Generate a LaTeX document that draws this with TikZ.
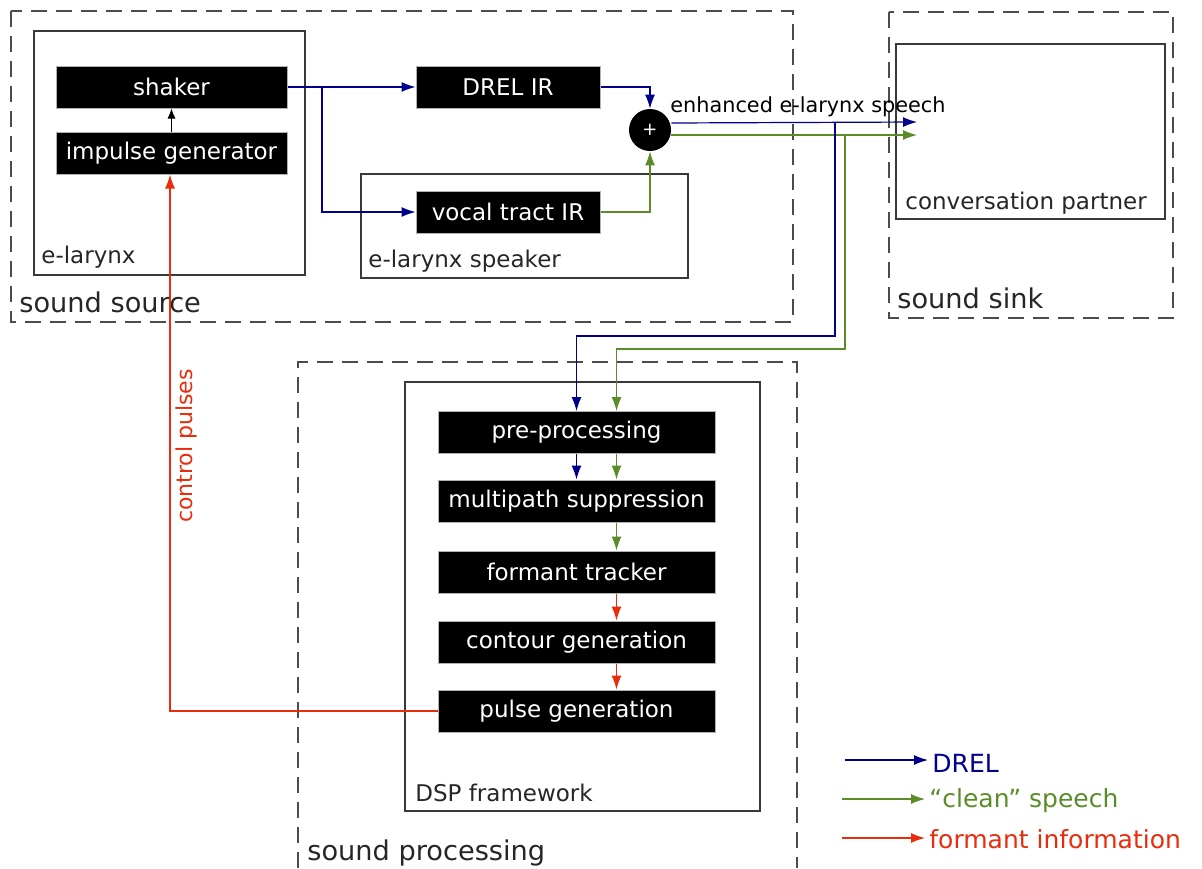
\documentclass[tikz,border=0pt]{standalone}
\usepackage{fontspec}
\setmainfont{DejaVu Sans}
\usetikzlibrary{arrows.meta}
\definecolor{drelblue}{RGB}{0,0,140}
\definecolor{cleangreen}{RGB}{92,140,42}
\definecolor{formantred}{RGB}{232,44,12}

\begin{document}
\begin{tikzpicture}[x=0.5pt, y=-0.5pt,
    block style/.style={rectangle, fill=black, draw=gray!60, line width=0.5pt, text=white, minimum height=21pt, inner sep=0pt, font=\fontsize{11.5}{13}\selectfont},
    frame style/.style={draw=gray!45!black, line width=0.6pt},
    group style/.style={draw=gray!60!black, line width=0.6pt, dash pattern=on 8pt off 4.5pt},
    label style/.style={anchor=base west, inner sep=0pt, text=black!85, font=\fontsize{11.5}{13}\selectfont},
    big label style/.style={anchor=base west, inner sep=0pt, text=black!85, font=\fontsize{13.6}{15}\selectfont},
    legend style/.style={anchor=west, inner sep=2pt, font=\fontsize{12.5}{14}\selectfont},
    drel line/.style={draw=drelblue, line width=0.6pt, -{Latex[length=7pt, width=5pt]}},
    clean line/.style={draw=cleangreen, line width=0.6pt, -{Latex[length=7pt, width=5pt]}},
    formant line/.style={draw=formantred, line width=0.65pt, -{Latex[length=7pt, width=5pt]}}
]
        \useasboundingbox (0,0) rectangle (1202,868);

        % groups and frames
        \draw[group style] (11,11) rectangle (793,322);
        \draw[group style] (889,12) rectangle (1173,318);
        \draw[group style] (298,868) -- (298,362) -- (797,362) -- (797,868);
        \draw[frame style] (34,31) rectangle (305,275);
        \draw[frame style] (361,174) rectangle (688,278);
        \draw[frame style] (896,44) rectangle (1165,219);
        \draw[frame style] (405,382) rectangle (760,811);

        \node[big label style] (srclabel) at (19,312) {sound source};
        \node[big label style] (sinklabel) at (897,308) {sound sink};
        \node[big label style] (proclabel) at (307,860) {sound processing};
        \node[label style] (larynxlabel) at (41,263) {e-larynx};
        \node[label style] (speakerlabel) at (368,267) {e-larynx speaker};
        \node[label style] (partnerlabel) at (905,209) {conversation partner};
        \node[label style] (dsplabel) at (415,801) {DSP framework};

        % blocks
        \node[block style, minimum width=115.5pt] (shaker) at (171.5,87) {shaker};
        \node[block style, minimum width=115.5pt] (impulse) at (171.5,153) {impulse generator};
        \node[block style, minimum width=92pt] (drelir) at (508,87) {DREL IR};
        \node[block style, minimum width=92pt] (vocal) at (508,212) {vocal tract IR};
        \node[circle, fill=black, minimum size=21pt, inner sep=0pt, text=white, font=\fontsize{9}{9}\selectfont] (sum) at (650,130) {+};
        \node[anchor=base west, inner sep=0pt, font=\fontsize{10.4}{12}\selectfont] (enhlabel) at (670,112) {enhanced e-larynx speech};

        \node[block style, minimum width=138.5pt] (pre) at (576.5,432.5) {pre-processing};
        \node[block style, minimum width=138.5pt] (multi) at (576.5,501) {multipath suppression};
        \node[block style, minimum width=138.5pt] (tracker) at (576.5,572) {formant tracker};
        \node[block style, minimum width=138.5pt] (contour) at (576.5,642) {contour generation};
        \node[block style, minimum width=138.5pt] (pulse) at (576.5,711) {pulse generation};

        % e-larynx signal paths
        \coordinate (split) at (322,87);
        \draw[-{Latex[length=5pt, width=4pt]}, line width=0.5pt] (impulse.north) -- (shaker.south);
        \draw[drel line] (shaker.east) -- (drelir.west);
        \draw[drel line] (split) |- (vocal.west);
        \draw[drel line] (drelir.east) -| (sum.north);
        \draw[clean line] (vocal.east) -| (sum.south);

        \coordinate (drelout) at (917,122);
        \coordinate (cleanout) at (917,135);
        \draw[drel line] ([yshift=3.5pt]sum.east) -- (drelout);
        \draw[clean line] ([yshift=-2.5pt]sum.east) -- (cleanout);

        % feed to the DSP framework
        \coordinate (dreltap) at (835,122);
        \coordinate (drelturn) at (835,336);
        \coordinate (cleantap) at (845,135);
        \coordinate (cleanturn) at (845,349);
        \draw[drel line] (dreltap) -- (drelturn) -| (pre.north);
        \draw[clean line] (cleantap) -- (cleanturn) -| ([xshift=20pt]pre.north);

        \draw[drel line] (pre.south) -- (multi.north);
        \draw[clean line] ([xshift=20pt]pre.south) -- ([xshift=20pt]multi.north);
        \draw[clean line] ([xshift=20pt]multi.south) -- ([xshift=20pt]tracker.north);
        \draw[formant line] ([xshift=20pt]tracker.south) -- ([xshift=20pt]contour.north);
        \draw[formant line] ([xshift=20pt]contour.south) -- ([xshift=20pt]pulse.north);

        % control pulses back to the e-larynx
        \coordinate (ctrlturn) at (170,711);
        \draw[formant line] (pulse.west) -- (ctrlturn) -- (ctrlturn |- impulse.south);
        \node[rotate=90, text=formantred, inner sep=0pt, font=\fontsize{11}{13}\selectfont] (ctrllabel) at (186,446) {control pulses};

        % legend
        \coordinate (legA) at (845,760);
        \coordinate (legB) at (842,799);
        \coordinate (legC) at (842,838);
        \node[legend style, text=drelblue] (legdrel) at (928,763) {DREL};
        \node[legend style, text=cleangreen] (legclean) at (925,801) {``clean'' speech};
        \node[legend style, text=formantred] (legformant) at (925,839) {formant information};
        \draw[drel line] (legA) -- (legA -| legdrel.west);
        \draw[clean line] (legB) -- (legB -| legclean.west);
        \draw[formant line] (legC) -- (legC -| legformant.west);
    \end{tikzpicture}
\end{document}
